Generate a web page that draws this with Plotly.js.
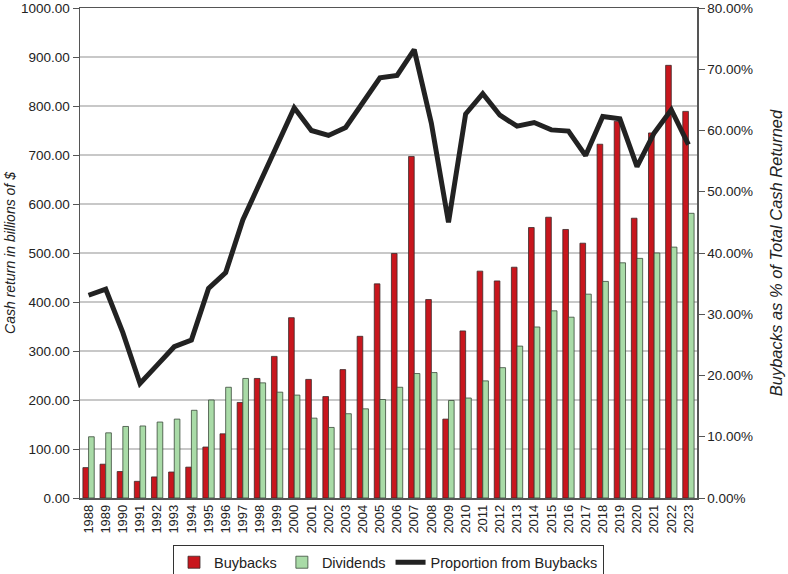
<!DOCTYPE html>
<html>
<head>
<meta charset="utf-8">
<script src="https://cdn.plot.ly/plotly-3.0.1.min.js"></script>
<style>
  html, body { margin: 0; padding: 0; background: #fff; }
  #chart { width: 788px; height: 574px; }
</style>
</head>
<body>
<div id="chart"></div>
<script>
// Values
const YEARS = [
  "1988", "1989", "1990", "1991", "1992", "1993", "1994", "1995", "1996",
  "1997", "1998", "1999", "2000", "2001", "2002", "2003", "2004", "2005",
  "2006", "2007", "2008", "2009", "2010", "2011", "2012", "2013", "2014",
  "2015", "2016", "2017", "2018", "2019", "2020", "2021", "2022", "2023",
];

// billions of $
const BUYBACKS = [
  62, 69, 54, 34, 43, 53, 63, 104, 131,
  195, 244, 289, 368, 242, 207, 262, 330, 437,
  499, 697, 405, 161, 341, 463, 443, 471, 552,
  573, 548, 520, 722, 769, 571, 745, 883, 789,
];

const DIVIDENDS = [
  125, 133, 146, 147, 155, 161, 179, 200, 226,
  244, 235, 216, 210, 163, 144, 172, 182, 201,
  226, 254, 256, 199, 204, 239, 266, 310, 349,
  382, 369, 416, 442, 480, 489, 500, 512, 581,
];

// share of total cash returned (right axis)
const PROPORTION = [
  0.331, 0.341, 0.270, 0.187, 0.217, 0.247, 0.258, 0.342, 0.368,
  0.454, 0.515, 0.577, 0.637, 0.600, 0.592, 0.605, 0.645, 0.686,
  0.690, 0.732, 0.612, 0.450, 0.627, 0.660, 0.625, 0.607, 0.613,
  0.601, 0.599, 0.559, 0.623, 0.619, 0.541, 0.596, 0.634, 0.577,
];

const FONT = "'Liberation Sans', Arial, sans-serif";
const TEXT_COLOR = "#222";
const BUYBACK_COLOR = "#c8161d";
const DIVIDEND_COLOR = "#a9dba7";
const LINE_COLOR = "#222222";
const AXIS_LINE = "#555";

const traces = [
  {
    x: YEARS,
    y: BUYBACKS,
    name: "Buybacks",
    type: "bar",
    marker: { color: BUYBACK_COLOR, line: { color: "#3a2a2a", width: 0.8 } },
  },
  {
    x: YEARS,
    y: DIVIDENDS,
    name: "Dividends",
    type: "bar",
    marker: { color: DIVIDEND_COLOR, line: { color: "#3a4a3a", width: 0.8 } },
  },
  {
    x: YEARS,
    y: PROPORTION,
    name: "Proportion from Buybacks",
    type: "scatter",
    mode: "lines",
    yaxis: "y2",
    line: { color: LINE_COLOR, width: 5 },
  },
];

const layout = {
  width: 788,
  height: 574,
  margin: { l: 80, r: 91, t: 8, b: 76 },
  paper_bgcolor: "#fff",
  plot_bgcolor: "#fff",
  font: { family: FONT, size: 13, color: TEXT_COLOR },
  barmode: "group",
  bargap: 0.34,
  bargroupgap: 0,
  showlegend: true,
  legend: {
    orientation: "h",
    x: 0.5,
    xanchor: "center",
    yref: "container",
    y: 0.05,
    yanchor: "top",
    bordercolor: "#333",
    borderwidth: 1,
    font: { family: FONT, size: 14.5, color: TEXT_COLOR },
    itemwidth: 30,
    traceorder: "normal",
  },
  xaxis: {
    type: "category",
    tickangle: -90,
    tickfont: { family: FONT, size: 13, color: TEXT_COLOR },
    showline: true,
    linecolor: AXIS_LINE,
    linewidth: 1.5,
    mirror: true,
    showgrid: false,
    ticks: "",
  },
  yaxis: {
    range: [0, 1000],
    dtick: 100,
    tickformat: ".2f",
    ticks: "outside",
    ticklen: 6,
    tickcolor: AXIS_LINE,
    showline: true,
    linecolor: AXIS_LINE,
    linewidth: 1.5,
    showgrid: true,
    gridcolor: "#c8c8c8",
    gridwidth: 1.2,
    zeroline: false,
    tickfont: { family: FONT, size: 13.5, color: TEXT_COLOR },
    title: {
      text: "<i>Cash return in billions of $</i>",
      font: { family: FONT, size: 14, color: TEXT_COLOR },
      standoff: 2,
    },
  },
  yaxis2: {
    overlaying: "y",
    side: "right",
    range: [0, 0.8],
    dtick: 0.1,
    tickformat: ".2%",
    ticks: "outside",
    ticklen: 6,
    tickcolor: AXIS_LINE,
    showline: true,
    linecolor: AXIS_LINE,
    linewidth: 1.5,
    showgrid: false,
    zeroline: false,
    tickfont: { family: FONT, size: 13.5, color: TEXT_COLOR },
    title: {
      text: "<i>Buybacks as % of Total Cash Returned</i>",
      font: { family: FONT, size: 16.5, color: TEXT_COLOR },
      standoff: 18,
    },
  },
};

Plotly.newPlot("chart", traces, layout, { displayModeBar: false, staticPlot: true });
</script>
</body>
</html>
